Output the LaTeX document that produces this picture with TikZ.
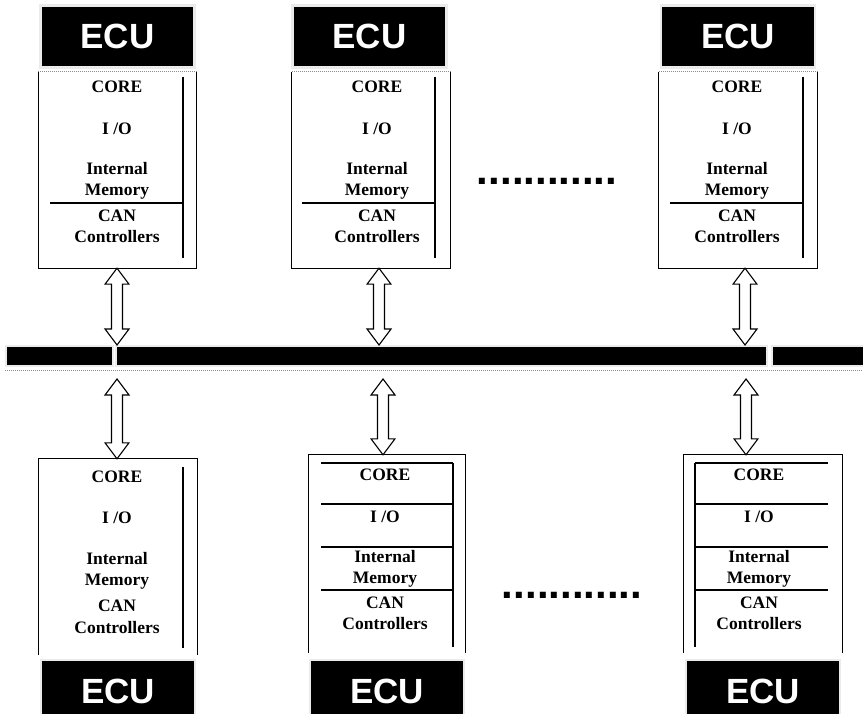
\documentclass[tikz,border=0pt]{standalone}
\usepackage{fontspec}
\setmainfont{Liberation Serif}
\newfontfamily\ecufont{Liberation Sans}
\usetikzlibrary{calc}
\tikzstyle{ecu} = [fill=black, draw=black!8, line width=2.4pt, text=white,
    font=\ecufont\bfseries\fontsize{35}{35}\selectfont,
    minimum width=154pt, minimum height=62pt, inner sep=0pt]
\tikzstyle{unit} = [rectangle, minimum width=158pt, minimum height=196pt, inner sep=0pt]
\tikzstyle{frame} = [line width=1.3pt, line join=miter]
\tikzstyle{part} = [line width=1.3pt]
\tikzstyle{sep} = [black!45, line width=1pt, dash pattern=on 1pt off 1pt]
\tikzstyle{lbl} = [align=center, inner sep=0pt, font=\bfseries\fontsize{17.5}{21.5}\selectfont]
\tikzstyle{bus} = [fill=black, draw=black!8, line width=2pt, minimum height=20pt, inner sep=0pt]
\tikzstyle{more} = [inner sep=0pt, anchor=base, font=\ecufont\bfseries\fontsize{42}{42}\selectfont]
\tikzstyle{busArrow} = [draw, fill=white, line width=1.1pt, line join=miter,
   to path={let \p1=(\tikztostart), \p2=(\tikztotarget) in
   (\x1,\y1) -- (\x1+12pt,\y1-16pt) -- (\x1+5.5pt,\y1-16pt) -- (\x1+5.5pt,\y2+16pt)
   -- (\x1+12pt,\y2+16pt) -- (\x1,\y2) -- (\x1-12pt,\y2+16pt) -- (\x1-5.5pt,\y2+16pt)
   -- (\x1-5.5pt,\y1-16pt) -- (\x1-12pt,\y1-16pt) -- cycle}]
\begin{document}
\begin{tikzpicture}[x=1pt, y=-1pt]
\useasboundingbox (0,0) rectangle (863,714);
\fill[white] (0,0) rectangle (863,714);
% Upper ECUs
	\node [ecu] (ecuA) at (117.5,36.5) {ECU};
	\node [unit, below of=ecuA, node distance=133.5pt] (unitA) {};
	\node [ecu] (ecuB) at (369.5,36.5) {ECU};
	\node [unit, below of=ecuB, node distance=133.5pt, xshift=1.5pt] (unitB) {};
	\node [ecu] (ecuC) at (738,36.5) {ECU};
	\node [unit, below of=ecuC, node distance=133.5pt] (unitC) {};
% Lower ECUs
	\node [unit] (unitD) at (118,557) {};
	\node [ecu, below of=unitD, node distance=134pt] (ecuD) {ECU};
	\node [unit, minimum width=156pt, minimum height=198pt] (unitE) at (387,554) {};
	\node [ecu, below of=unitE, node distance=137pt] (ecuE) {ECU};
	\node [unit, minimum height=198pt] (unitF) at (763,554) {};
	\node [ecu, below of=unitF, node distance=137pt] (ecuF) {ECU};
% Bus
	\node [bus, minimum width=107pt] (busL) at (59.5,356) {};
	\node [bus, minimum width=651pt] (busM) at (441.5,356) {};
	\node [bus, minimum width=99pt] (busR) at (821.5,356) {};
	\coordinate (tapA) at (117,345);
	\coordinate (tapB) at (379,345);
	\coordinate (tapC) at (745,345);
	\coordinate (tapD) at (117,379);
	\coordinate (tapE) at (383,379);
	\coordinate (tapF) at (746,379);
% Frames
	\foreach \u in {unitA,unitB,unitC} {
		\draw [frame] (\u.north west) -- (\u.south west) -- (\u.south east) -- (\u.north east);
		\draw [sep] (\u.north west) -- (\u.north east);
	}
	\foreach \u in {unitD,unitE,unitF}
		\draw [frame] (\u.south west) -- (\u.north west) -- (\u.north east) -- (\u.south east);
	\draw [sep] ([yshift=-4pt]busL.south west) -- ([yshift=-4pt]busR.south east);
% Inner parts
	\draw [part] (183,77) -- (183,258);
	\draw [part] (50,203) -- (183,203);
	\draw [part] (435,77) -- (435,258);
	\draw [part] (302,203) -- (435,203);
	\draw [part] (803,77) -- (803,258);
	\draw [part] (670,203) -- (803,203);
	\draw [part] (183,467) -- (183,648);
	\draw [part] (453,463) -- (453,647);
	\draw [part] (695,463) -- (695,647);
	\foreach \y in {463,504,547,590} {
		\draw [part] (321,\y) -- (453,\y);
		\draw [part] (695,\y) -- (828,\y);
	}
% Labels
	\node [lbl] (coreA) at (117,87) {CORE};
	\node [lbl, below of=coreA, node distance=42pt] (ioA) {I /O};
	\node [lbl, below of=ioA, node distance=52pt] (memA) {Internal\\Memory};
	\node [lbl, below of=memA, node distance=45.5pt] (canA) {CAN\\Controllers};
	\node [lbl] (coreB) at (377,87) {CORE};
	\node [lbl, below of=coreB, node distance=42pt] (ioB) {I /O};
	\node [lbl, below of=ioB, node distance=52pt] (memB) {Internal\\Memory};
	\node [lbl, below of=memB, node distance=45.5pt] (canB) {CAN\\Controllers};
	\node [lbl] (coreC) at (737,87) {CORE};
	\node [lbl, below of=coreC, node distance=42pt] (ioC) {I /O};
	\node [lbl, below of=ioC, node distance=52pt] (memC) {Internal\\Memory};
	\node [lbl, below of=memC, node distance=45.5pt] (canC) {CAN\\Controllers};
	\node [lbl] (coreD) at (117,477) {CORE};
	\node [lbl, below of=coreD, node distance=41pt] (ioD) {I /O};
	\node [lbl, below of=ioD, node distance=53pt] (memD) {Internal\\Memory};
	\node [lbl, below of=memD, node distance=46pt] (canD) {CAN\\Controllers};
	\node [lbl] (coreE) at (385,475) {CORE};
	\node [lbl, below of=coreE, node distance=42pt] (ioE) {I /O};
	\node [lbl, below of=ioE, node distance=52pt] (memE) {Internal\\Memory};
	\node [lbl, below of=memE, node distance=44.5pt] (canE) {CAN\\Controllers};
	\node [lbl] (coreF) at (759,475) {CORE};
	\node [lbl, below of=coreF, node distance=42pt] (ioF) {I /O};
	\node [lbl, below of=ioF, node distance=52pt] (memF) {Internal\\Memory};
	\node [lbl, below of=memF, node distance=44.5pt] (canF) {CAN\\Controllers};
% More ECUs
	\node [more] (moreTop) at (547,185) {............};
	\node [more] (moreBot) at (572,598) {............};
% Connections
	\draw [busArrow] (unitA.south -| tapA) to (tapA);
	\draw [busArrow] (unitB.south -| tapB) to (tapB);
	\draw [busArrow] (unitC.south -| tapC) to (tapC);
	\draw [busArrow] (tapD) to (unitD.north -| tapD);
	\draw [busArrow] (tapE) to (unitE.north -| tapE);
	\draw [busArrow] (tapF) to (unitF.north -| tapF);
\end{tikzpicture}
\end{document}
